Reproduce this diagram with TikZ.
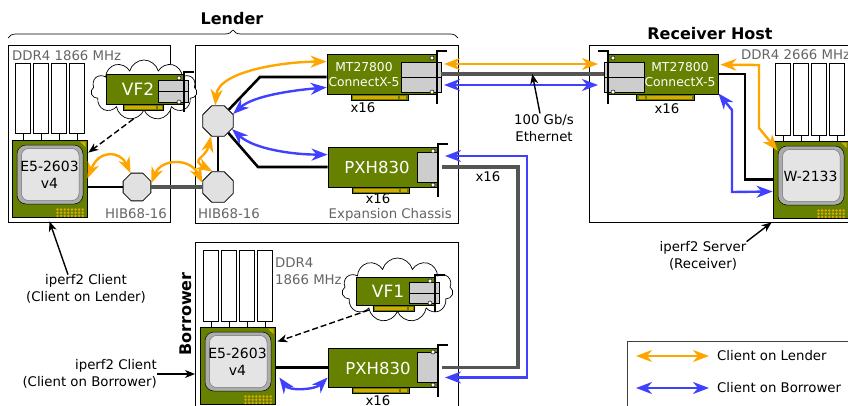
\documentclass[tikz,border=0pt]{standalone}
\usepackage{fontspec}
\setmainfont{DejaVu Sans}
\usetikzlibrary{arrows.meta,shapes.geometric,shapes.symbols,decorations.pathreplacing,calc}

\definecolor{cardgreen}{RGB}{102,128,0}
\definecolor{gold}{RGB}{214,170,0}
\definecolor{lidouter}{RGB}{172,172,172}
\definecolor{lidinner}{RGB}{228,228,228}
\definecolor{portgray}{RGB}{205,205,205}
\definecolor{hubgray}{RGB}{225,225,225}
\definecolor{cablegray}{RGB}{85,85,85}
\definecolor{labelgray}{RGB}{100,100,100}
\definecolor{lendcol}{RGB}{255,165,0}
\definecolor{borrcol}{RGB}{64,64,255}

\tikzset{
  txt/.style={inner sep=0pt, font=\fontsize{13.3}{16.5}\selectfont},
  graytxt/.style={txt, text=labelgray},
  titletxt/.style={inner sep=0pt, font=\fontsize{16}{19}\selectfont\bfseries},
  cardtxt/.style={inner sep=0pt, text=white, align=center, font=\fontsize{12.3}{15}\selectfont},
  bigcardtxt/.style={inner sep=0pt, text=white, font=\fontsize{16.5}{19}\selectfont},
  hostbox/.style={draw=black, line width=1pt, inner sep=0pt, anchor=north west},
  dimm/.style={draw=black, fill=white, line width=0.8pt, inner sep=0pt, minimum width=15, anchor=north west},
  hub/.style={regular polygon, regular polygon sides=8, draw=black, fill=hubgray, line width=0.8pt, inner sep=0pt},
  vcloud/.style={cloud, cloud puffs=11, cloud ignores aspect, draw=black, fill=white, line width=0.7pt, inner sep=0pt},
  wire/.style={line width=2.6pt, draw=black},
  cable/.style={line width=3.2pt, draw=cablegray},
  flow/.style={line width=2.4pt, {Stealth[length=16pt,width=12pt,inset=5pt]}-{Stealth[length=16pt,width=12pt,inset=5pt]}},
  lend/.style={flow, draw=lendcol},
  borr/.style={flow, draw=borrcol},
  note/.style={line width=1.4pt, -{Stealth[length=10pt,width=8pt,inset=3pt]}},
  dasharrow/.style={note, dash pattern=on 6pt off 3pt},
  cardbody/.style={draw=black, fill=cardgreen, line width=0.8pt, inner sep=0pt},
  cpuchip/.style={draw=black, fill=cardgreen, line width=0.8pt, inner sep=0pt, minimum width=75, minimum height=77},
  % PCIe card: #1 body width, #2 body height, #3 number of ports, #4 port block width
  pics/card/.style n args={4}{code={
    \filldraw[fill=cardgreen, draw=black, line width=0.6pt] (0.22*#1,#2-2) rectangle (0.74*#1,#2+6.5);
    \fill[gold] (0.24*#1,#2+1.5) rectangle (0.645*#1,#2+5);
    \fill[gold] (0.665*#1,#2+1.5) rectangle (0.72*#1,#2+5);
    \node[cardbody, minimum width=#1, minimum height=#2] (-body) at (#1/2,#2/2) {};
    \ifnum#3=2
      \filldraw[fill=portgray, draw=black, line width=0.6pt] (#1-#4,0.2*#2) rectangle (#1+4,0.58*#2);
      \filldraw[fill=portgray, draw=black, line width=0.6pt] (#1-#4,0.58*#2) rectangle (#1+4,0.95*#2);
    \else
      \filldraw[fill=portgray, draw=black, line width=0.6pt] (#1-#4,0.12*#2) rectangle (#1-1,0.88*#2);
    \fi
    \draw[line width=1.8pt] (#1+10,-0.08*#2) -- (#1,-0.08*#2) -- (#1,1.25*#2);
    \filldraw[fill=white, draw=black, line width=0.5pt] (#1-5,4) circle[radius=2pt] (#1-5,#2-2) circle[radius=2pt];
    \coordinate (-port) at (#1+4,#2/2);
  }},
  % processor package with its name
  pics/cpu/.style={code={
    \node[cpuchip] (-chip) at (37.5,38.5) {};
    \fill[gold] (68,1.5) -- (73.5,1.5) -- (73.5,7) -- cycle;
    \filldraw[fill=lidouter, draw=black, line width=0.5pt, rounded corners=9pt] (5,5) rectangle (71,64);
    \filldraw[fill=lidinner, draw=black!55, line width=0.5pt, rounded corners=7pt] (9.5,8.5) rectangle (67,60.5);
    \foreach \i in {0,...,7} \foreach \j in {0,1,2}
      \fill[gold] (45.5+\i*3.6,69.5+\j*3.2) circle[radius=1.4pt];
    \node[inner sep=0pt, align=center, font=\fontsize{14}{16.5}\selectfont] (-name) at (37.5,35) {#1};
  }},
}

\begin{document}
\begin{tikzpicture}[x=1pt,y=-1pt]
\useasboundingbox (0,0) rectangle (848,405);
\clip (0,0) rectangle (848,405);

% ---------- enclosures ----------
\node[hostbox, minimum width=162, minimum height=177] (lenderhost) at (8,45) {};
\node[hostbox, minimum width=263, minimum height=178] (chassis) at (195,45) {};
\node[hostbox, minimum width=270, minimum height=177] (receiver) at (589,45) {};
\node[hostbox, minimum width=263, minimum height=180] (borrowerbox) at (195,242) {};
\node[hostbox, draw=black!75, minimum width=240, minimum height=80] (legend) at (627,341) {};

\draw[line width=0.7pt, decorate, decoration={brace, amplitude=8pt}] (8,38) -- (458,38);
\node[titletxt] (lendertitle) at (232,19) {Lender};
\node[titletxt] (rtitle) at (710,34) {Receiver Host};
\node[titletxt, rotate=90] (btitle) at (186,314) {Borrower};

% ---------- lender host ----------
\node[graytxt, anchor=base west] (lddr) at (12,60) {DDR4 1866 MHz};
\foreach \k/\x in {1/15,2/33,3/51,4/69}
  \node[dimm, minimum height=70] (ld\k) at (\x,63) {};
\pic (lcpu) at (12,140) {cpu={E5-2603\\v4}};
\foreach \k in {1,...,4}
  \draw[line width=0.8pt] (ld\k.south) -- (ld\k.south |- lcpu-chip.north);
\node[vcloud, minimum width=106, minimum height=60] (vf2cloud) at (144,90) {};
\pic (vf2) at (106,74) {card={78}{30}{2}{26}};
\node[bigcardtxt, font=\fontsize{17}{20}\selectfont] (vf2-name) at (138,89) {VF2};
\node[hub, minimum size=30] (leftOct) at (137,187) {};
\node[graytxt, anchor=base] (lhib) at (136,218) {HIB68-16};

% ---------- expansion chassis ----------
\node[hub, minimum size=33] (upOct) at (218,121) {};
\node[hub, minimum size=33] (lowOct) at (218,187) {};
\node[graytxt, anchor=base] (chib) at (229,218) {HIB68-16};
\node[graytxt, anchor=base east] (chassislabel) at (452,218) {Expansion Chassis};
\pic (cx1) at (327,54) {card={110}{40}{2}{36}};
\node[cardtxt] (cx1-name) at (364,74.5) {MT27800\\ConnectX-5};
\node[txt] (cx1-x16) at (363,108) {x16};
\pic (pxh1) at (328,147) {card={110}{40}{1}{21}};
\node[bigcardtxt] (pxh1-name) at (377,167) {PXH830};
\node[txt] (pxh1-x16) at (378,199) {x16};

% ---------- receiver host ----------
\pic[xscale=-1] (cx2) at (718,54) {card={110}{40}{2}{36}};
\node[cardtxt] (cx2-name) at (680,74.5) {MT27800\\ConnectX-5};
\node[txt] (cx2-x16) at (667,109) {x16};
\node[graytxt, anchor=base west] (rddr) at (741,59.5) {DDR4 2666 MHz};
\foreach \k/\x in {1/775,2/793,3/811,4/829}
  \node[dimm, minimum height=72] (rd\k) at (\x,63) {};
\pic (rcpu) at (773,141) {cpu={W-2133}};
\foreach \k in {1,...,4}
  \draw[line width=0.8pt] (rd\k.south) -- (rd\k.south |- rcpu-chip.north);

% ---------- borrower ----------
\foreach \k/\x in {1/203,2/221,3/239,4/257}
  \node[dimm, minimum height=71] (bd\k) at (\x,250) {};
\node[graytxt, anchor=west, align=left] (bddr) at (275,271) {DDR4\\1866 MHz};
\pic (bcpu) at (200,327) {cpu={E5-2603\\v4}};
\foreach \k in {1,...,4}
  \draw[line width=0.8pt] (bd\k.south) -- (bd\k.south |- bcpu-chip.north);
\node[vcloud, minimum width=111, minimum height=64] (vf1cloud) at (397.5,290) {};
\pic (vf1) at (356,277) {card={79}{28}{2}{26}};
\node[bigcardtxt, font=\fontsize{17}{20}\selectfont] (vf1-name) at (388,291) {VF1};
\pic (pxh2) at (328,348) {card={110}{39}{1}{21}};
\node[bigcardtxt] (pxh2-name) at (378,368) {PXH830};
\node[txt] (pxh2-x16) at (378,401) {x16};

% ---------- wires and cables ----------
\draw[wire] (leftOct.west -| lcpu-chip.east) -- (leftOct.west);
\draw[cable] (leftOct) -- (lowOct);
\draw[wire] (upOct) -- (lowOct);
\draw[wire] (upOct) -- (260,77) -- (cx1-body.west |- 260,77);
\draw[wire] (upOct) -- (258,167) -- (pxh1-body.west |- 258,167);
\draw[cable] (cx1-port) -- (cx2-port);
\draw[cable] (pxh1-port) -| (518,270) |- (pxh2-port);
\node[txt] (pcie-x16) at (488,177) {x16};
\draw[wire] (cx2-body.east) -| (745,150) |- (rcpu-chip.west);
\draw[wire] (pxh2-body.west -| bcpu-chip.east) -- (pxh2-body.west);

% ---------- virtual functions ----------
\draw[dasharrow] (vf2cloud.250) -- ($(lcpu-chip.north east)+(1,13)$);
\draw[dasharrow] (vf1cloud.215) -- ($(bcpu-chip.north east)+(2,15)$);

% ---------- client on lender path ----------
\draw[lend] (lcpu-chip.east) .. controls +(12,-30) and +(-10,-22) .. (leftOct.115);
\draw[lend] (leftOct.15) .. controls +(10,-25) and +(-12,-25) .. (lowOct.165);
\draw[lend] (lowOct.110) .. controls +(-22,-12) and +(-5,22) .. (upOct.245);
\draw[lend] (upOct.100) .. controls +(3,-35) and +(-40,0) .. ($(cx1-body.north west)+(0,8)$);
\draw[lend] ($(cx1-port)+(3,-10)$) -- ($(cx2-port)+(-6,-10)$);
\draw[lend] ($(cx2-body.north east)+(2,11)$) -- (759,65) -- (759,128) -- ($(rcpu-chip.north west)+(5,10)$);

% ---------- client on borrower path ----------
\draw[borr] ($(bcpu-chip.east)+(4,12)$) .. controls +(10,14) and +(-12,12) .. ($(pxh2-body.west)+(0,10)$);
\draw[borr] ($(pxh1-port)+(3,-11)$) -| (527,270) |- ($(pxh2-port)+(3,10)$);
\draw[borr] (upOct.-30) .. controls +(22,20) and +(-35,0) .. ($(pxh1-body.north west)+(0,8)$);
\draw[borr] (upOct.25) .. controls +(20,-18) and +(-35,3) .. ($(cx1-body.south west)+(0,-7)$);
\draw[borr] ($(cx1-port)+(3,11)$) -- ($(cx2-port)+(-6,11)$);
\draw[borr] ($(cx2-body.south east)+(0,-1)$) -- (732,110) -- (732,192) -- ($(rcpu-chip.west)+(0,12)$);

% ---------- annotations ----------
\node[txt, align=center] (ethlabel) at (544,128) {100 Gb/s\\Ethernet};
\draw[note] ($(ethlabel.north)+(-4,-1)$) -- ($(cx1-port)!0.56!(cx2-port)$);
\node[txt, align=center] (lclient) at (86,289) {iperf2 Client\\(Client on Lender)};
\draw[note] ($(lclient.north)+(-18,0)$) -- ($(lcpu-chip.south)+(0,4)$);
\node[txt, align=right, anchor=east] (bclient) at (157,374) {iperf2 Client\\(Client on Borrower)};
\draw[note] (bclient.east) -- (bclient.east -| borrowerbox.west);
\node[txt, align=center] (rserver) at (703,256) {iperf2 Server\\(Receiver)};
\draw[note] (rserver.north east) -- ($(rcpu-chip.south west)+(-1,4)$);

% ---------- legend ----------
\draw[lend] ($(legend.north west)+(9,15)$) -- ++(73,0) coordinate (legA);
\node[txt, anchor=west] (leg1) at ($(legA)+(8,0)$) {Client on Lender};
\draw[borr] ($(legend.north west)+(9,47)$) -- ++(73,0) coordinate (legB);
\node[txt, anchor=west] (leg2) at ($(legB)+(8,0)$) {Client on Borrower};
\end{tikzpicture}
\end{document}
